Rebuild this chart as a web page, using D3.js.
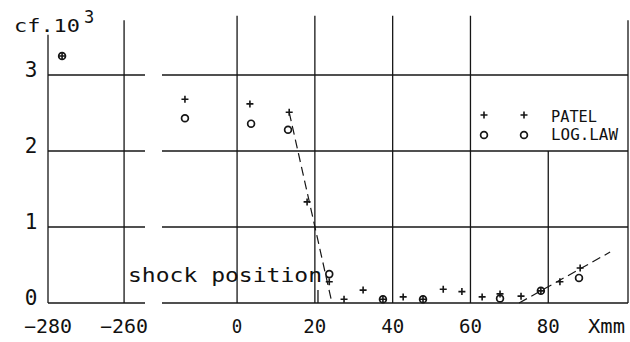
<!DOCTYPE html>
<html>
<head>
<meta charset="utf-8">
<script src="https://cdn.jsdelivr.net/npm/d3@7"></script>
<style>
  html, body { margin: 0; padding: 0; background: #fff; }
  svg { display: block; }
  text { font-family: "DejaVu Sans Mono", monospace; fill: #111; }
</style>
</head>
<body>
<svg id="chart" width="630" height="342"></svg>
<script>
// Skin-friction coefficient along the wall (cf x 10^3 vs X in mm)
const patelX   = [-276.3, -13.4, 3.3, 13.4, 18.0, 23.7, 27.5, 32.4, 37.5, 42.7, 47.8, 53.0, 57.8, 63.0, 67.6, 73.0, 78.1, 83.0, 88.2];
const patelCf  = [3.25, 2.68, 2.62, 2.51, 1.33, 0.28, 0.05, 0.17, 0.05, 0.08, 0.05, 0.18, 0.15, 0.08, 0.12, 0.09, 0.16, 0.28, 0.46];
const logLawX  = [-276.3, -13.4, 3.6, 13.1, 23.7, 37.5, 47.8, 67.6, 78.1, 87.9];
const logLawCf = [3.25, 2.43, 2.36, 2.28, 0.38, 0.05, 0.05, 0.06, 0.16, 0.33];

// dashed trend lines: shock drop and downstream recovery
const dropX = [13.4, 24.4], dropCf = [2.51, 0.0];
const riseX = [72.5, 95.9], riseCf = [0.0, 0.67];
const shockX = 20.8;

const xTicks = [-280, -260, 0, 20, 40, 60, 80];
const yTicks = [0, 1, 2, 3];
const xSegments = [[-280, -254.5], [-19.3, 100.5]];  // broken x axis

const svg = d3.select("#chart");
const ink = "#161616";

// piecewise scale: short upstream piece, gap, then the main range
const x = d3.scaleLinear().domain([-280, -254.5, -19.3, 100.5]).range([48, 145, 162, 628]);
const y = d3.scaleLinear().domain([0, 3]).range([303, 75]);

const grid = svg.append("g").attr("stroke", ink).attr("stroke-width", 1.3).attr("fill", "none");

// horizontal grid lines on each axis piece
xSegments.forEach(([a, b]) => {
  yTicks.forEach(v => {
    grid.append("line").attr("x1", x(a)).attr("x2", x(b)).attr("y1", y(v)).attr("y2", y(v));
  });
});

// vertical lines
const verticals = [
  { v: -280, top: 3.53 },
  { v: -260, top: 3.72 },
  { v: 0, top: 3.78 },
  { v: 20, top: 3.78 },
  { v: 40, top: 3.78 },
  { v: 60, top: 3.78 },
  { v: 80, top: 2 },
  { v: 100.5, top: 3.72 }
];
verticals.forEach(d => {
  grid.append("line").attr("x1", x(d.v)).attr("x2", x(d.v)).attr("y1", y(d.top)).attr("y2", y(0));
});

// shock position marker
grid.append("line").attr("x1", x(shockX)).attr("x2", x(shockX)).attr("y1", y(0.17)).attr("y2", y(0));

// dashed lines
const line = d3.line().x(d => x(d[0])).y(d => y(d[1]));
[[dropX, dropCf], [riseX, riseCf]].forEach(([xs, ys]) => {
  svg.append("path")
    .attr("d", line(xs.map((v, i) => [v, ys[i]])))
    .attr("fill", "none").attr("stroke", ink).attr("stroke-width", 1.2)
    .attr("stroke-dasharray", "9,5");
});

// markers
const plusPath = (cx, cy, s) => `M${cx - s},${cy}H${cx + s}M${cx},${cy - s}V${cy + s}`;
const marks = svg.append("g").attr("stroke", ink).attr("fill", "none");
patelX.forEach((v, i) => {
  marks.append("path").attr("d", plusPath(x(v), y(patelCf[i]), 3.5)).attr("stroke-width", 1.6);
});
logLawX.forEach((v, i) => {
  marks.append("circle").attr("cx", x(v)).attr("cy", y(logLawCf[i])).attr("r", 3.4).attr("stroke-width", 1.7);
});

// tick labels
const fmt = v => (v < 0 ? "\u2212" + Math.abs(v) : String(v));
svg.append("g").selectAll("text").data(xTicks).join("text")
  .attr("x", d => x(d)).attr("y", 333)
  .attr("text-anchor", "middle")
  .attr("font-size", 19)
  .attr("textLength", d => fmt(d).length * 12.5 - 2)
  .attr("lengthAdjust", "spacingAndGlyphs")
  .text(fmt);

svg.append("g").selectAll("text").data(yTicks).join("text")
  .attr("x", 31).attr("y", d => y(d) + 2)
  .attr("text-anchor", "middle")
  .attr("font-size", 21)
  .text(d => d);

// axis titles
svg.append("text").attr("x", 588).attr("y", 333).attr("font-size", 19)
  .attr("textLength", 37).attr("lengthAdjust", "spacingAndGlyphs").text("Xmm");
svg.append("text").attr("x", 14).attr("y", 32).attr("font-size", 18)
  .attr("textLength", 66).attr("lengthAdjust", "spacingAndGlyphs").text("cf.10");
svg.append("text").attr("x", 84).attr("y", 23).attr("font-size", 17).text("3");

// annotation
svg.append("text").attr("x", 128).attr("y", 282).attr("font-size", 19)
  .attr("textLength", 194).attr("lengthAdjust", "spacingAndGlyphs").text("shock position");

// legend
const legend = svg.append("g");
[484, 524].forEach(lx => {
  legend.append("path").attr("d", plusPath(lx, 115, 3.5)).attr("stroke", ink).attr("stroke-width", 1.6);
  legend.append("circle").attr("cx", lx).attr("cy", 135).attr("r", 3.4)
    .attr("fill", "none").attr("stroke", ink).attr("stroke-width", 1.7);
});
legend.append("text").attr("x", 551).attr("y", 122).attr("font-size", 15)
  .attr("textLength", 46).attr("lengthAdjust", "spacingAndGlyphs").text("PATEL");
legend.append("text").attr("x", 551).attr("y", 140).attr("font-size", 15)
  .attr("textLength", 67).attr("lengthAdjust", "spacingAndGlyphs").text("LOG.LAW");
</script>
</body>
</html>
